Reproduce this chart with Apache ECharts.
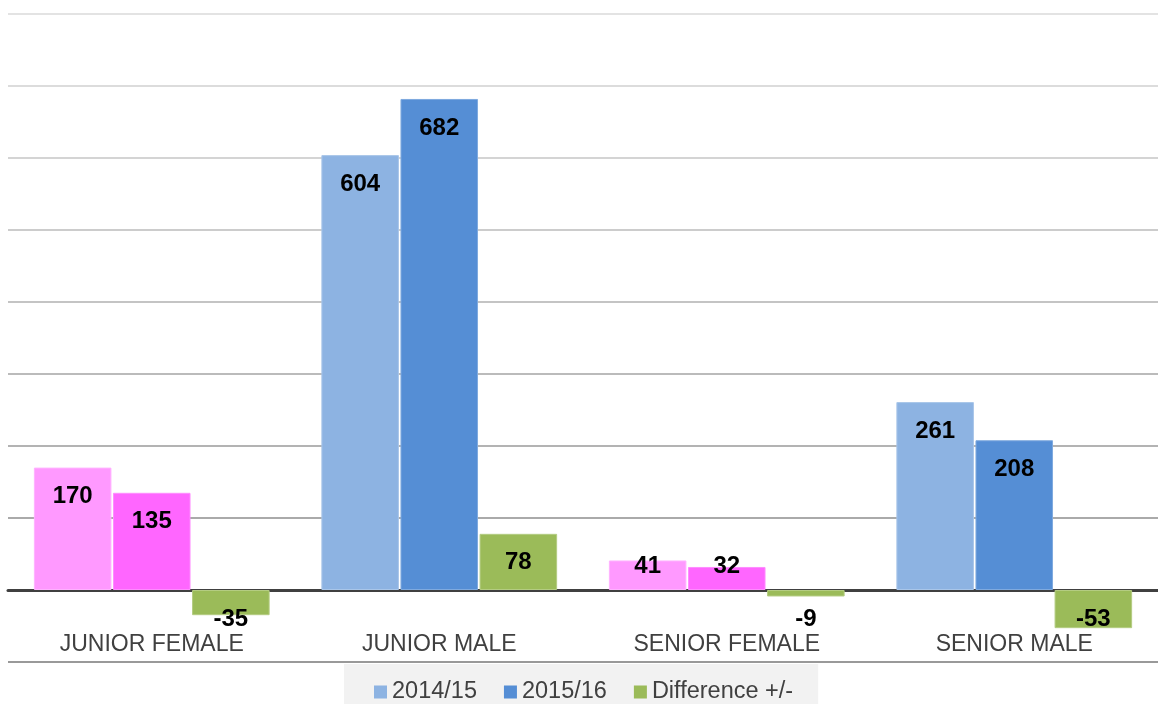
<!DOCTYPE html>
<html>
<head>
<meta charset="utf-8">
<script src="https://cdn.jsdelivr.net/npm/echarts@6/dist/echarts.min.js"></script>
<style>
  html, body { margin: 0; padding: 0; background: #fff; }
  #chart { width: 1158px; height: 704px; }
</style>
</head>
<body>
<div id="chart"></div>
<script>
const categories = ["JUNIOR FEMALE", "JUNIOR MALE", "SENIOR FEMALE", "SENIOR MALE"];
const seriesNames = ["2014/15", "2015/16", "Difference +/-"];
const values2014 = [170, 604, 41, 261];
const values2015 = [135, 682, 32, 208];
const valuesDiff = [-35, 78, -9, -53];

// female groups are drawn in pink, male in blue
const femaleGroup = [true, false, true, false];
const colors2014 = { female: "#FF99FF", male: "#8DB3E2" };
const colors2015 = { female: "#FF66FF", male: "#558ED5" };
const diffColor = "#9BBB59";

const chart = echarts.init(document.getElementById("chart"));

function makeItems(vals, palette) {
  return vals.map((v, i) => {
    let color = palette ? (femaleGroup[i] ? palette.female : palette.male) : diffColor;
    let label;
    if (v < 0) {
      label = { position: "insideTop", distance: 17 };
    } else if (v < 60) {
      label = { position: "insideBottom", distance: 12 };
    } else {
      label = { position: "insideTop", distance: 17 };
    }
    return {
      value: v,
      itemStyle: { color: color, borderColor: echarts.color.lift(color, 0.25), borderWidth: 1 },
      label: label,
    };
  });
}

const labelStyle = {
  show: true,
  color: "#000",
  fontFamily: "Liberation Sans",
  fontWeight: "bold",
  fontSize: 24,
};

let option = {
  animation: false,
  grid: { left: 8, right: 0, top: 14, bottom: 42, containLabel: false, outerBoundsMode: "none" },
  legend: {
    bottom: 0,
    left: 344,
    data: seriesNames,
    icon: "rect",
    itemWidth: 13,
    itemHeight: 13,
    itemGap: 27,
    backgroundColor: "#F2F2F2",
    padding: [16, 25, 0, 30],
    textStyle: { fontFamily: "Liberation Sans", fontSize: 23.5, color: "#404040" },
  },
  xAxis: {
    type: "category",
    data: categories,
    axisLine: { onZero: true, lineStyle: { color: "#404040", width: 3 } },
    axisTick: { show: false },
    axisLabel: {
      margin: -29,
      fontFamily: "Liberation Sans",
      fontSize: 23,
      color: "#404040",
    },
  },
  yAxis: {
    type: "value",
    min: -100,
    max: 800,
    interval: 100,
    axisLine: { show: false },
    axisTick: { show: false },
    axisLabel: { show: false },
    splitLine: {
      lineStyle: {
        width: 2,
        color: ["#999999", "#404040", "#AAAAAA", "#B3B3B3", "#BBBBBB", "#C4C4C4", "#CCCCCC", "#D4D4D4", "#DCDCDC", "#E3E3E3"],
      },
    },
  },
  series: [
    {
      name: seriesNames[0],
      type: "bar",
      color: colors2014.male,
      barGap: "2%",
      barCategoryGap: "18%",
      label: labelStyle,
      data: makeItems(values2014, colors2014),
    },
    {
      name: seriesNames[1],
      type: "bar",
      color: colors2015.male,
      label: labelStyle,
      data: makeItems(values2015, colors2015),
    },
    {
      name: seriesNames[2],
      type: "bar",
      color: diffColor,
      label: labelStyle,
      data: makeItems(valuesDiff, null),
    },
  ],
};
chart.setOption(option);
</script>
</body>
</html>
